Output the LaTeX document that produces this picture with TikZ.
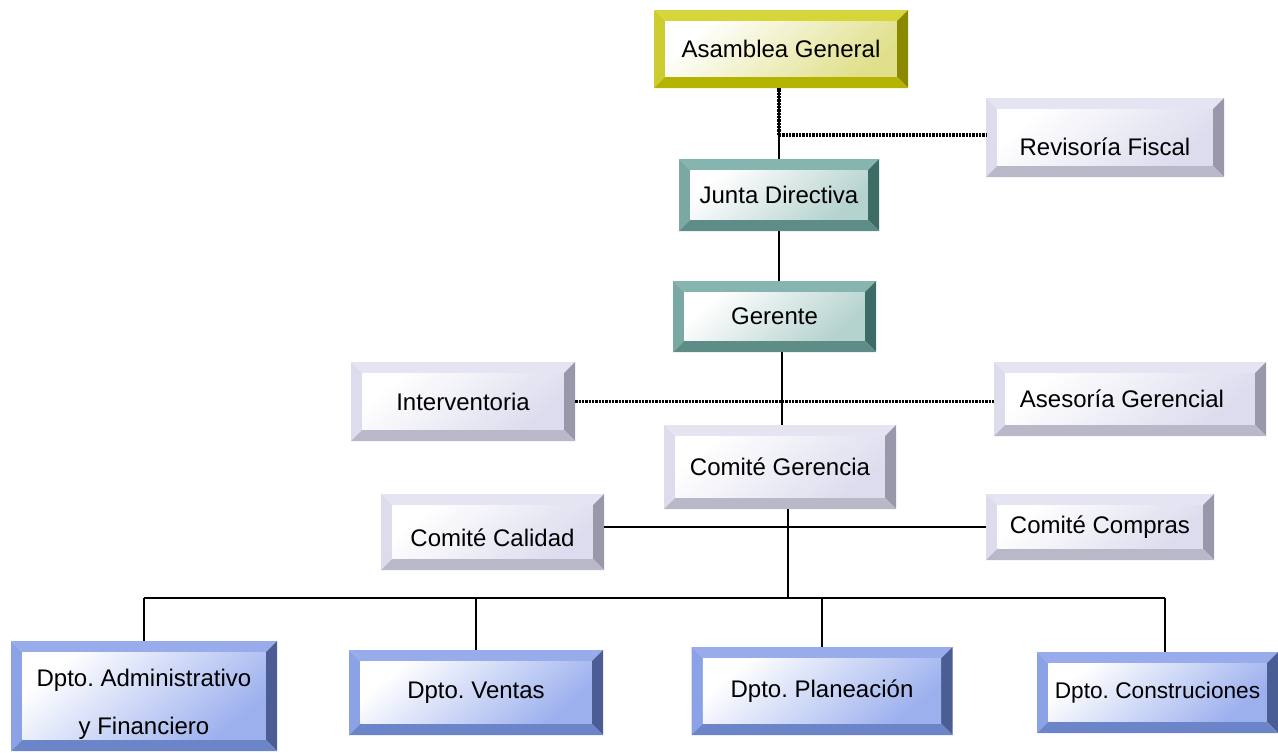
\documentclass[tikz,border=0pt]{standalone}
\usepackage{fontspec}
\setmainfont{Liberation Sans}
\frenchspacing
\usetikzlibrary{calc}
\definecolor{yT}{HTML}{D6D63A}\definecolor{yL}{HTML}{CCCC30}\definecolor{yR}{HTML}{8A8A00}\definecolor{yB}{HTML}{B4B400}\definecolor{yF}{HTML}{E0E08C}
\definecolor{tT}{HTML}{86B4AE}\definecolor{tL}{HTML}{7AA8A2}\definecolor{tR}{HTML}{3D6B66}\definecolor{tB}{HTML}{5E8D87}\definecolor{tF}{HTML}{B4D2CE}
\definecolor{gT}{HTML}{E4E4F2}\definecolor{gL}{HTML}{DCDCEC}\definecolor{gR}{HTML}{9898AA}\definecolor{gB}{HTML}{B8B8C8}\definecolor{gF}{HTML}{DCDCEE}
\definecolor{bT}{HTML}{98ACEC}\definecolor{bL}{HTML}{8CA2E6}\definecolor{bR}{HTML}{4C5C94}\definecolor{bB}{HTML}{6C84C8}\definecolor{bF}{HTML}{9CB0EE}
\newcommand\bv{8.5pt}
\newcommand\lowtxt[2]{\raisebox{-#1}[0pt][0pt]{#2}}
\tikzset{
  bev/.style={inner sep=0pt, font=\fontsize{18}{21}\selectfont, align=center,
    path picture={
      \coordinate (pnw) at (path picture bounding box.north west);
      \coordinate (pne) at (path picture bounding box.north east);
      \coordinate (psw) at (path picture bounding box.south west);
      \coordinate (pse) at (path picture bounding box.south east);
      \fill[#1T] (pnw) -- (pne) -- ([shift={(-\bv,-\bv)}]pne) -- ([shift={(\bv,-\bv)}]pnw) -- cycle;
      \fill[#1L] (pnw) -- (psw) -- ([shift={(\bv,\bv)}]psw) -- ([shift={(\bv,-\bv)}]pnw) -- cycle;
      \fill[#1R] (pne) -- (pse) -- ([shift={(-\bv,\bv)}]pse) -- ([shift={(-\bv,-\bv)}]pne) -- cycle;
      \fill[#1B] (psw) -- (pse) -- ([shift={(-\bv,\bv)}]pse) -- ([shift={(\bv,\bv)}]psw) -- cycle;
      \shade[top color=white, bottom color=#1F, shading angle=40]
        ([shift={(\bv,\bv)}]psw) rectangle ([shift={(-\bv,-\bv)}]pne);
    }},
  sz/.style 2 args={minimum width=#1*0.75pt, minimum height=#2*0.75pt},
  conn/.style={line width=1.4pt, black},
  dots/.style={line width=2.4pt, black, dash pattern=on 1.8pt off 0.7pt},
}
\begin{document}
\begin{tikzpicture}[x=0.75pt, y=-0.75pt]
\useasboundingbox (0,0) rectangle (1278,753);
% boxes
\node[bev=y, sz={254}{78}] (asm) at (781,49) {Asamblea General};
\node[bev=g, sz={238}{79}] (rev) at (1105,137.5) {\lowtxt{13.5pt}{Revisoría Fiscal}};
\node[bev=t, sz={200}{72}] (jun) at (779,195) {Junta Directiva};
\node[bev=t, sz={203}{71}] (ger) at (774.5,316.5) {Gerente};
\node[bev=g, sz={224}{79}] (int) at (463,401.5) {Interventoria};
\node[bev=g, sz={272}{74}] (ase) at (1130,399) {\hspace*{-12pt}Asesoría Gerencial};
\node[bev=g, sz={232}{84}] (cge) at (780,467) {Comité Gerencia};
\node[bev=g, sz={223}{76}] (cca) at (492.5,532) {\lowtxt{10.5pt}{Comité Calidad}};
\node[bev=g, sz={228}{66}] (cco) at (1100,527) {Comité Compras};
\node[bev=b, sz={266}{110}] (dad) at (144,696) {\lowtxt{29pt}{\shortstack{Dpto. Administrativo\\[16pt]y Financiero}}};
\node[bev=b, sz={254}{85}] (dve) at (476,692.5) {Dpto. Ventas};
\node[bev=b, sz={261}{88}] (dpl) at (822,691) {Dpto. Planeación};
\node[bev=b, sz={241}{81}] (dco) at (1157.5,692.5) {\fontsize{17}{20}\selectfont Dpto. Construciones};
% connectors
\coordinate (bus) at (788,598);
\coordinate (rj) at (779,135);
\draw[conn] (jun.north) -- (jun.north |- asm.south);
\draw[dots] (rj) -- (rj |- asm.south);
\draw[dots] (rj) -- (rj -| rev.west);
\draw[conn] (jun.south) -- (jun.south |- ger.north);
\coordinate (gc) at (782,352);
\draw[conn] (gc) -- (gc |- cge.north);
\draw[dots] (int.east) -- (int.east -| ase.west);
\draw[conn] (bus) -- (bus |- cge.south);
\draw[conn] (cco.west) -- (cco.west -| cca.east);
\draw[conn] (dad.north |- bus) -- ($(dco.north |- bus)+(7.5,0)$);
\draw[conn] (dad.north) -- (dad.north |- bus);
\draw[conn] (dve.north) -- (dve.north |- bus);
\draw[conn] (dpl.north) -- (dpl.north |- bus);
\draw[conn] ($(dco.north)+(7.5,0)$) -- ($(dco.north |- bus)+(7.5,0)$);
\end{tikzpicture}
\end{document}
